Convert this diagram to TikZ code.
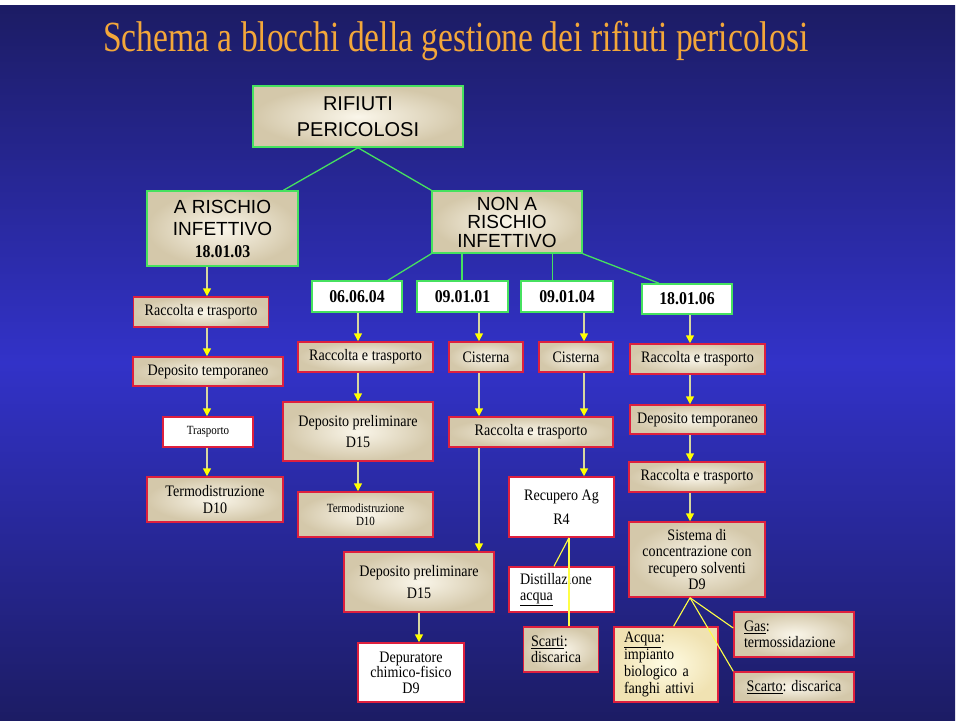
\documentclass[tikz,border=0pt]{standalone}
\usepackage{fontspec}
\setmainfont{Liberation Serif}[FakeStretch=0.88]
\newfontfamily\titolofont{Liberation Serif}[FakeStretch=0.78]
\newfontfamily\comicfont{Liberation Sans}
\usetikzlibrary{arrows.meta}
\definecolor{navy}{RGB}{28,28,100}
\definecolor{slideblue}{RGB}{50,50,200}
\definecolor{titolo}{RGB}{243,167,58}
\definecolor{bordorosso}{RGB}{222,32,62}
\definecolor{bordoverde}{RGB}{70,225,95}
\definecolor{beigec}{RGB}{250,246,234}
\definecolor{beigeb}{RGB}{212,200,170}
\definecolor{gialloc}{RGB}{255,252,228}
\definecolor{giallob}{RGB}{240,226,178}
\definecolor{filo}{RGB}{215,215,160}
\definecolor{punta}{RGB}{255,255,0}
\definecolor{lineagialla}{RGB}{255,255,70}
\newcommand\spazio{\spaceskip=.22em\relax}

\begin{document}
\begin{tikzpicture}[x=1pt, y=-1pt,
  taglia/.style 2 args={minimum width=#1, minimum height=#2},
  box/.style={line width=1.5pt, align=center, inner sep=2pt, font=\fontsize{16}{16.5}\selectfont\spazio},
  beige/.style={box, draw=bordorosso, inner color=beigec, outer color=beigeb},
  giallo/.style={box, draw=bordorosso, inner color=gialloc, outer color=giallob},
  bianco/.style={box, draw=bordorosso, fill=white},
  verde/.style={box, draw=bordoverde, inner color=beigec, outer color=beigeb},
  codice/.style={box, draw=bordoverde, fill=white, font=\bfseries\fontsize{18}{18}\selectfont},
  ramo/.style={draw=bordoverde, line width=1.3pt},
  freccia/.style={draw=filo, line width=1.6pt, -{Triangle[length=8pt,width=8pt,color=punta]}},
  linea/.style={draw=lineagialla, line width=1.1pt}]

  % sfondo della diapositiva
  \fill[white] (0,0) rectangle (960,723);
  \shade[top color=navy, bottom color=navy, middle color=slideblue] (0,5) rectangle (955,720);

  \node[anchor=base west, inner sep=0pt, text=titolo, font=\titolofont\fontsize{43}{46}\selectfont] (titolo) at (103,51)
    {Schema a blocchi della gestione dei rifiuti pericolosi};

  % classificazione
  \node[verde, taglia={210}{61}, font=\comicfont\fontsize{20}{26}\selectfont] (rifiuti) at (358,116.5) {RIFIUTI\\PERICOLOSI};
  \node[verde, taglia={151}{75}, font=\comicfont\fontsize{19}{22}\selectfont] (infettivo) at (222.5,228.5)
    {A RISCHIO\\INFETTIVO\\\textbf{\rmfamily\fontsize{18}{22}\selectfont 18.01.03}};
  \node[verde, taglia={150}{62}, font=\comicfont\fontsize{19}{18.5}\selectfont] (nonrischio) at (507,222) {NON A\\RISCHIO\\INFETTIVO};

  \node[codice, taglia={90}{31}] (c0606) at (357,296.5) {06.06.04};
  \node[codice, taglia={91}{31}] (c0901) at (462.5,296.5) {09.01.01};
  \node[codice, taglia={92}{31}] (c0904) at (567,296.5) {09.01.04};
  \node[codice, taglia={90}{30}] (c1801) at (687,299) {18.01.06};

  % colonna a rischio infettivo
  \node[beige, taglia={135}{30}] (raccA) at (201,312) {Raccolta e trasporto};
  \node[beige, taglia={150}{29}] (depA) at (208,371.5) {Deposito temporaneo};
  \node[bianco, taglia={90}{30}, font=\fontsize{12.5}{13}\selectfont] (trasp) at (208,432) {Trasporto};
  \node[beige, taglia={136}{45}] (termoA) at (215,499.5) {Termodistruzione\\D10};

  % 06.06.04
  \node[beige, taglia={135}{30}] (raccB) at (365.5,357) {Raccolta e trasporto};
  \node[beige, taglia={150}{59}] (prelB) at (358,431.5) {Deposito preliminare\\[5pt]D15};
  \node[beige, taglia={135}{45}, font=\fontsize{12.5}{13}\selectfont] (termoB) at (365.5,514.5) {Termodistruzione\\D10};

  % 09.01.01 e 09.01.04
  \node[beige, taglia={74}{30}] (cistA) at (486,357) {Cisterna};
  \node[beige, taglia={74}{30}] (cistB) at (576,357) {Cisterna};
  \node[beige, taglia={164}{30}] (raccC) at (531,432) {Raccolta e trasporto};
  \node[beige, taglia={150}{60}] (prelC) at (419,582) {Deposito preliminare\\[5pt]D15};
  \node[bianco, taglia={106}{59}, font=\fontsize{16}{15.5}\selectfont\spazio] (depur) at (411,672.5) {Depuratore\\chimico-fisico\\D9};
  \node[bianco, taglia={105}{60}] (recup) at (561.5,507) {Recupero Ag\\[8pt]R4};
  \node[bianco, taglia={105}{45}, text width=83, inner xsep=11, align=left] (distil) at (561.5,589.5) {Distillazione\\\underline{acqua}};
  \node[beige, taglia={75}{45}, text width=60, inner xsep=7.5, align=left] (scarti) at (561,649.5) {\underline{Scarti}:\\discarica};

  % 18.01.06
  \node[beige, taglia={135}{30}] (raccD) at (697.5,359) {Raccolta e trasporto};
  \node[beige, taglia={135}{29}] (depD) at (697.5,419.5) {Deposito temporaneo};
  \node[beige, taglia={136}{30}] (raccE) at (697,477) {Raccolta e trasporto};
  \node[beige, taglia={136}{75}] (sistema) at (697,559.5) {Sistema di\\concentrazione con\\recupero solventi\\D9};
  \node[giallo, taglia={104}{75}, text width=84, inner xsep=10, align=left, font=\fontsize{16}{17}\selectfont\spazio] (acqua) at (666,664.5)
    {\underline{Acqua}:\\impianto\\biologico a\\fanghi attivi};
  \node[beige, taglia={120}{45}, text width=100, inner xsep=10, align=left] (gas) at (794,634.5) {\underline{Gas}:\\termossidazione};
  \node[beige, taglia={120}{30}] (scarto) at (794,687) {\underline{Scarto}: discarica};

  % rami verdi
  \draw[ramo] (rifiuti.south) -- ([xshift=61pt]infettivo.north);
  \draw[ramo] (rifiuti.south) -- (nonrischio.north west);
  \draw[ramo] (nonrischio.south west) -- ([xshift=31pt]c0606.north);
  \draw[ramo] ([xshift=-45pt]nonrischio.south) -- ([xshift=-45pt]nonrischio.south |- c0901.north);
  \draw[ramo] ([xshift=45.5pt]nonrischio.south) -- ([xshift=45.5pt]nonrischio.south |- c0904.north);
  \draw[ramo] (nonrischio.south east) -- ([xshift=-28pt]c1801.north);

  % frecce gialle
  \coordinate (colA) at (207,0);
  \coordinate (colB) at (358,0);
  \coordinate (colC) at (479,0);
  \coordinate (colD) at (584,0);
  \coordinate (colE) at (690,0);
  \foreach \da/\a/\col in {infettivo/raccA/colA, raccA/depA/colA, depA/trasp/colA, trasp/termoA/colA,
      c0606/raccB/colB, raccB/prelB/colB, prelB/termoB/colB,
      c0901/cistA/colC, cistA/raccC/colC, raccC/prelC/colC,
      c0904/cistB/colD, cistB/raccC/colD, raccC/recup/colD,
      c1801/raccD/colE, raccD/depD/colE, depD/raccE/colE, raccE/sistema/colE}
    \draw[freccia] (\da.south -| \col) -- (\a.north -| \col);
  \draw[freccia] (prelC.south) -- (prelC.south |- depur.north);

  % linee sottili
  \coordinate (nodoR) at ([xshift=7.5pt]recup.south);
  \draw[linea] (nodoR) -- ([xshift=-7.5pt]distil.north);
  \draw[linea] (nodoR) -- (nodoR |- scarti.north);
  \coordinate (nodoS) at (sistema.south -| colE);
  \draw[linea] (nodoS) -- ([xshift=7.6pt]acqua.north);
  \draw[linea] (nodoS) -- ([yshift=6.5pt]gas.west);
  \draw[linea] (nodoS) -- (scarto.north west);
\end{tikzpicture}
\end{document}
